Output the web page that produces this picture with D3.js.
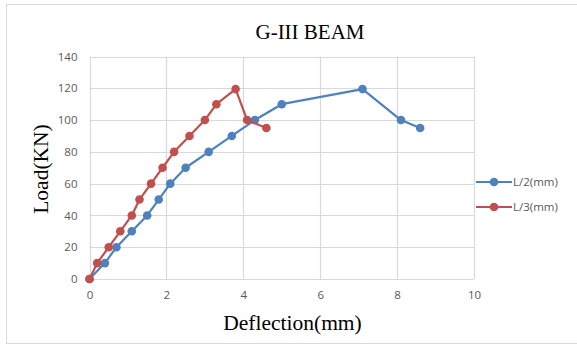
<!DOCTYPE html>
<html>
<head>
<meta charset="utf-8">
<script src="https://cdn.jsdelivr.net/npm/d3@7"></script>
<style>
  body { margin: 0; background: #fff; }
  svg { display: block; }
</style>
</head>
<body>
<svg id="chart" width="577" height="346"></svg>
<script>
// deflection (mm) vs load (kN)
var defL2 = [0, 0.4, 0.7, 1.1, 1.5, 1.8, 2.1, 2.5, 3.1, 3.7, 4.3, 5.0, 7.1, 8.1, 8.6];
var loadL2 = [0, 10, 20, 30, 40, 50, 60, 70, 80, 90, 100, 110, 119.5, 100, 95];
var defL3 = [0, 0.2, 0.5, 0.8, 1.1, 1.3, 1.6, 1.9, 2.2, 2.6, 3.0, 3.3, 3.8, 4.1, 4.6];
var loadL3 = [0, 10, 20, 30, 40, 50, 60, 70, 80, 90, 100, 110, 119.5, 100, 95];
var seriesNames = ['L/2(mm)', 'L/3(mm)'];
var seriesColors = ['#4f81bd', '#c0504d'];
var xTicks = [0, 2, 4, 6, 8, 10];
var yTicks = [0, 20, 40, 60, 80, 100, 120, 140];

var svg = d3.select('#chart');
var margin = {left: 89.5, right: 103, top: 56.5, bottom: 67};
var width = +svg.attr('width');
var height = +svg.attr('height');

var series = [
    {name: seriesNames[0], color: seriesColors[0], pts: defL2.map((d, i) => [d, loadL2[i]])},
    {name: seriesNames[1], color: seriesColors[1], pts: defL3.map((d, i) => [d, loadL3[i]])}
];

// outer chart border
svg.append('rect')
    .attr('x', 6.5).attr('y', 4.5)
    .attr('width', 575).attr('height', 339)
    .attr('fill', '#fff').attr('stroke', '#d9d9d9');

var x = d3.scaleLinear().domain([0, 10]).range([margin.left, width - margin.right]);
var y = d3.scaleLinear().domain([0, 140]).range([height - margin.bottom, margin.top]);

// gridlines
var grid = svg.append('g');
grid.selectAll('.gy').data(yTicks).enter().append('line')
    .attr('x1', x(0)).attr('x2', x(10))
    .attr('y1', d => Math.round(y(d)) + 0.5).attr('y2', d => Math.round(y(d)) + 0.5)
    .attr('stroke', '#d9d9d9').attr('stroke-width', 1.2);
grid.selectAll('.gx').data(xTicks).enter().append('line')
    .attr('x1', d => Math.round(x(d)) + 0.5).attr('x2', d => Math.round(x(d)) + 0.5)
    .attr('y1', y(0)).attr('y2', y(140))
    .attr('stroke', '#d9d9d9').attr('stroke-width', 1.2);

// axes
var xAxis = svg.append('g')
    .attr('transform', `translate(0,${y(0)})`)
    .call(d3.axisBottom(x).tickValues(xTicks).tickSize(0).tickPadding(12));
var yAxis = svg.append('g')
    .attr('transform', `translate(${x(0)},0)`)
    .call(d3.axisLeft(y).tickValues(yTicks).tickSize(0).tickPadding(12));
[xAxis, yAxis].forEach(a => {
    a.select('.domain').remove();
    a.selectAll('text')
        .attr('fill', '#595959')
        .style('font-family', 'Open Sans, Liberation Sans, sans-serif')
        .style('font-size', '11.5px');
});

// lines + markers
var line = d3.line().x(d => x(d[0])).y(d => y(d[1]));
series.forEach(s => {
    svg.append('path')
        .datum(s.pts)
        .attr('d', line)
        .attr('fill', 'none')
        .attr('stroke', s.color)
        .attr('stroke-width', 2.2)
        .attr('stroke-linejoin', 'round');
    svg.append('g').selectAll('circle').data(s.pts).enter().append('circle')
        .attr('cx', d => x(d[0]))
        .attr('cy', d => y(d[1]))
        .attr('r', 4.3)
        .attr('fill', s.color);
});

// legend
var legend = svg.append('g');
series.forEach((s, i) => {
    var ly = 182 + i * 25;
    legend.append('line')
        .attr('x1', 476).attr('x2', 512)
        .attr('y1', ly).attr('y2', ly)
        .attr('stroke', s.color).attr('stroke-width', 2.2);
    legend.append('circle')
        .attr('cx', 494).attr('cy', ly).attr('r', 4.3)
        .attr('fill', s.color);
    legend.append('text').text(s.name)
        .attr('x', 513).attr('y', ly + 4)
        .attr('fill', '#595959')
        .style('font-family', 'Open Sans, Liberation Sans, sans-serif')
        .style('font-size', '11.5px');
});

// titles
svg.append('text').text('G-III BEAM')
    .attr('x', 310).attr('y', 39)
    .attr('text-anchor', 'middle')
    .style('font-family', 'Liberation Serif, serif')
    .style('font-size', '21px');
svg.append('text').text('Deflection(mm)')
    .attr('x', 292.5).attr('y', 330)
    .attr('text-anchor', 'middle')
    .style('font-family', 'Liberation Serif, serif')
    .style('font-size', '21.5px');
svg.append('text').text('Load(KN)')
    .attr('transform', 'translate(48,169) rotate(-90)')
    .attr('text-anchor', 'middle')
    .style('font-family', 'Liberation Serif, serif')
    .style('font-size', '21.5px');
</script>
</body>
</html>
